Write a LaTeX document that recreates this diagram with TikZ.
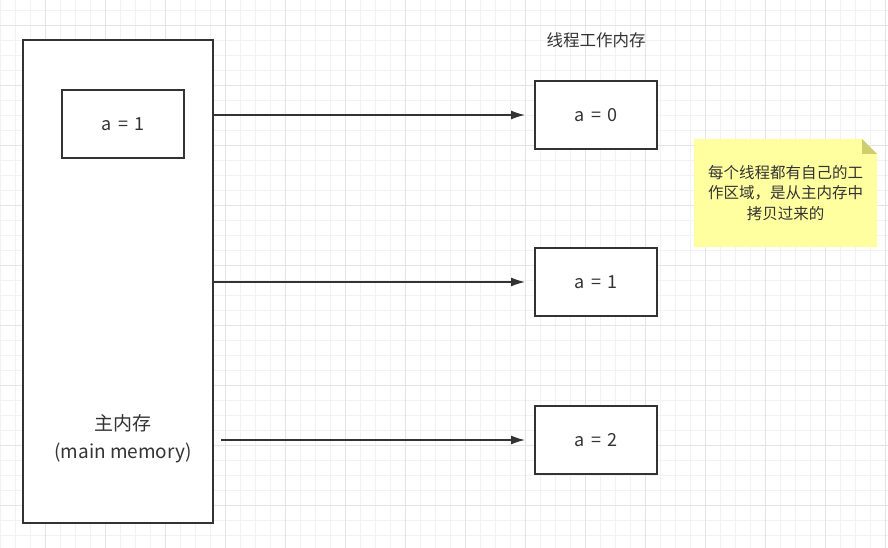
\documentclass[tikz,border=0pt]{standalone}
\usepackage{fontspec}
\setmainfont{Noto Sans CJK SC}
\newfontfamily\boxfamily[WordSpace=1.6]{Noto Sans CJK SC}
\usepackage{tikz}
\usetikzlibrary{calc,arrows.meta}

\definecolor{inkgray}{RGB}{51,51,51}
\definecolor{gridminor}{RGB}{242,242,242}
\definecolor{gridmajor}{RGB}{228,228,228}
\definecolor{notefill}{RGB}{255,255,160}
\definecolor{notefold}{RGB}{206,206,112}

\tikzset{
  membox/.style={draw=inkgray, line width=1.4pt, minimum width=122pt, minimum height=68pt,
                 inner sep=0pt, text=inkgray, font=\boxfamily\fontsize{18}{22}\selectfont},
  flow/.style={draw=inkgray, line width=1.4pt, -{Latex[length=14pt,width=9pt]}, shorten >=10pt},
}

\begin{document}
\begin{tikzpicture}[x=1pt, y=-1pt, inner sep=0pt, outer sep=0pt]
    \useasboundingbox (0,0) rectangle (888,548);
    \fill[white] (0,0) rectangle (888,548);

    % grid
    \foreach \gx in {0.7,15.7,...,888}
        \draw[gridminor, line width=0.8pt] (\gx,0) -- (\gx,548);
    \foreach \gy in {10.7,25.7,...,548}
        \draw[gridminor, line width=0.8pt] (0,\gy) -- (888,\gy);
    \foreach \gx in {45.7,105.7,...,888}
        \draw[gridmajor, line width=0.8pt] (\gx,0) -- (\gx,548);
    \foreach \gy in {25.7,85.7,...,548}
        \draw[gridmajor, line width=0.8pt] (0,\gy) -- (888,\gy);

    % main memory
    \node[membox, fill=white, minimum width=190pt, minimum height=483pt, anchor=north west]
        (mainmem) at (23,40) {};
    \node[membox, draw=none, align=center, font=\fontsize{19}{28}\selectfont] (mainlbl) at (123,439)
    {主内存\\(main memory)};
    \node[membox, fill=white] (mainA) at (123,124) {a = 1};

    % thread working memory
    \node[text=inkgray, font=\fontsize{16.5}{20}\selectfont] (thrtitle) at (596,40) {线程工作内存};
    \node[membox, fill=white] (thr0) at (596,115) {a = 0};
    \node[membox, fill=white] (thr1) at (596,282) {a = 1};
    \node[membox, fill=white] (thr2) at (596,440) {a = 2};

    % copies
    \draw[flow] (mainmem.east |- thr0.west) -- (thr0.west);
    \draw[flow] (mainmem.east |- thr1.west) -- (thr1.west);
    \coordinate (cpstart) at ($(mainmem.east |- thr2.west) + (8,0)$);
    \draw[flow] (cpstart) -- (thr2.west);

    % note
    \fill[notefill] (694,139) -- (862,139) -- (877,154) -- (877,247) -- (694,247) -- cycle;
    \fill[notefold] (862,139) -- (877,154) -- (862,154) -- cycle;
    \node[text=inkgray, align=center, font=\fontsize{15.5}{20.5}\selectfont] (note) at (785.5,193)
    {每个线程都有自己的工\\作区域，是从主内存中\\拷贝过来的};
\end{tikzpicture}
\end{document}
